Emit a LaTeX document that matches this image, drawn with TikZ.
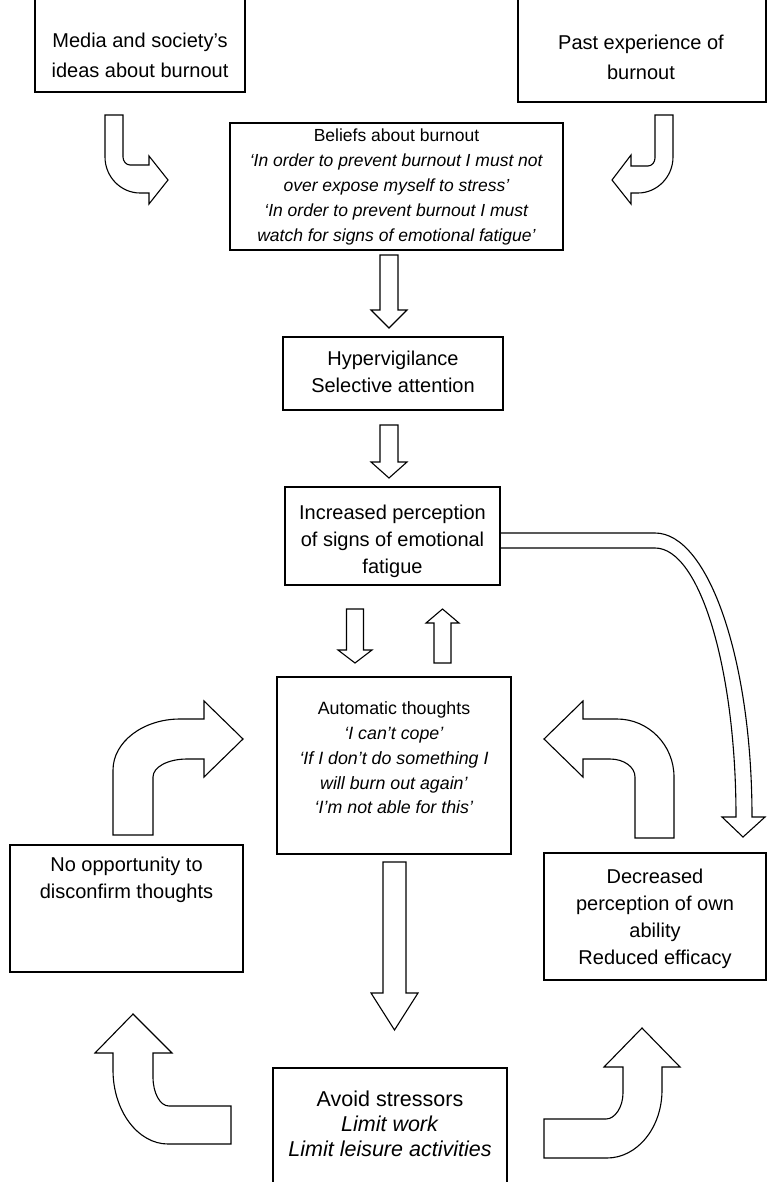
\documentclass[tikz,border=0pt]{standalone}
\usepackage{fontspec}
\setmainfont{Liberation Sans}
\usetikzlibrary{positioning}
\newcommand{\vblock}[6]{\draw[blk] (#1-#5,#2) -- (#1-#5,#3) -- (#1-#6,#3) -- (#1,#4) -- (#1+#6,#3) -- (#1+#5,#3) -- (#1+#5,#2) -- cycle;}
\begin{document}
\begin{tikzpicture}[x=1pt,y=-1pt,
  box/.style={draw=black, line width=1.1pt, inner sep=0pt, outer sep=0pt},
  blk/.style={draw=black, line width=1.1pt, fill=white, line join=miter},
  txt/.style={align=center, inner sep=0pt},
  fA/.style={font=\fontsize{20}{30}\selectfont},
  fB/.style={font=\fontsize{17.5}{24.8}\selectfont},
  fC/.style={font=\fontsize{20}{27}\selectfont},
  fD/.style={font=\fontsize{17.8}{24.7}\selectfont},
  fE/.style={font=\fontsize{21.5}{25}\selectfont}]
\useasboundingbox (0,0) rectangle (768,1182);

% boxes
\node[box, minimum width=210pt, minimum height=97pt] (media) at (140,43.5) {};
\node[box, minimum width=248pt, minimum height=107pt] (past) at (642,48.5) {};
\node[box, minimum width=333pt, minimum height=127pt] (beliefs) at (396.5,186.5) {};
\node[box, minimum width=220pt, minimum height=73pt] (hyper) at (393,373.5) {};
\node[box, minimum width=215pt, minimum height=98pt] (incr) at (392.5,536) {};
\node[box, minimum width=234pt, minimum height=177pt] (auto) at (394,765.5) {};
\node[box, minimum width=233pt, minimum height=127pt] (noopp) at (126.5,908.5) {};
\node[box, minimum width=222pt, minimum height=127pt] (decr) at (655,916.5) {};
\node[box, minimum width=234pt, minimum height=122pt] (avoid) at (390,1129) {};

% texts
\node[txt, fA] (tmedia) at (140,55) {Media and society’s\\ideas about burnout};
\node[txt, fA] (tpast) at (641,57) {Past experience of\\burnout};
\node[txt, fB] (tbel) at (396.5,187) {Beliefs about burnout\\\textit{‘In order to prevent burnout I must not}\\\textit{over expose myself to stress’}\\\textit{‘In order to prevent burnout I must}\\\textit{watch for signs of emotional fatigue’}};
\node[txt, fC] (thyp) at (393,372) {Hypervigilance\\Selective attention};
\node[txt, fC] (tinc) at (392.5,541) {Increased perception\\of signs of emotional\\fatigue};
\node[txt, fD] (taut) at (394,758) {Automatic thoughts\\\textit{‘I can’t cope’}\\\textit{‘If I don’t do something I}\\\textit{will burn out again’}\\\textit{‘I’m not able for this’}};
\node[txt, fC] (tno) at (126.5,880) {No opportunity to\\disconfirm thoughts};
\node[txt, fC] (tdec) at (655,919) {Decreased\\perception of own\\ability\\Reduced efficacy};
\node[txt, fE] (tav) at (390,1124) {Avoid stressors\\\textit{Limit work}\\\textit{Limit leisure activities}};

% straight block arrows
\vblock{389}{255}{310}{328}{9}{18}
\vblock{389}{425}{462}{478}{9}{18}
\vblock{355}{609}{650}{663}{8.5}{17}
\vblock{442.5}{663}{623}{609}{8.5}{16.5}
\vblock{394.5}{862}{993}{1030}{11.5}{23.5}

% top-left curved arrow
\draw[blk] (105,115) -- (105,157) .. controls (105,177) and (121,193) .. (140,193) -- (149,193) -- (149,204) -- (168,180) -- (149,156) -- (149,165) -- (130,165) .. controls (126,165) and (123,161) .. (123,157) -- (123,115) -- cycle;
% top-right curved arrow
\draw[blk] (673,115) -- (673,157) .. controls (673,177) and (657,193) .. (638,193) -- (631,193) -- (631,204) -- (612,180) -- (631,155) -- (631,166) -- (648,166) .. controls (652,166) and (655,162) .. (655,158) -- (655,115) -- cycle;

% left big curved arrow
\draw[blk] (113,835) -- (113,770) .. controls (113,742) and (143,719) .. (180,719) -- (204,719) -- (204,701) -- (243,739) -- (204,777) -- (204,759) -- (187,759) .. controls (168,759) and (153,767) .. (153,777) -- (153,835) -- cycle;
% right big curved arrow
\draw[blk] (674,838) -- (674,777) .. controls (674,745) and (648.5,719) .. (617,719) -- (583,719) -- (583,701) -- (544,739) -- (583,777) -- (583,759) -- (610,759) .. controls (624,759) and (635,767) .. (635,777) -- (635,838) -- cycle;

% bottom-left curved arrow
\draw[blk] (133,1014) -- (172,1053) -- (153,1053) -- (153,1077) .. controls (153,1093) and (160,1106) .. (169,1106) -- (231,1106) -- (231,1144) -- (168,1144) .. controls (138,1144) and (113,1111) .. (113,1070) -- (113,1053) -- (95,1053) -- cycle;
% bottom-right curved arrow
\draw[blk] (642,1028) -- (680,1067) -- (662,1067) -- (662,1090) .. controls (662,1128) and (637,1158) .. (607,1158) -- (544,1158) -- (544,1119) -- (606,1119) .. controls (615,1119) and (623,1107) .. (623,1093) -- (623,1067) -- (604,1067) -- cycle;

% long curved arrow from increased perception to decreased perception
\coordinate (gA) at (incr.east |- 0,533);
\coordinate (gB) at (incr.east |- 0,548);
\draw[blk, fill=none] (gA) -- (655,533) .. controls (708.5,533) and (752,660) .. (752,817) -- (765,817) -- (743,837) -- (722,817) -- (736,817) .. controls (736,668.5) and (699.7,548) .. (655,548) -- (gB);
\end{tikzpicture}
\end{document}
